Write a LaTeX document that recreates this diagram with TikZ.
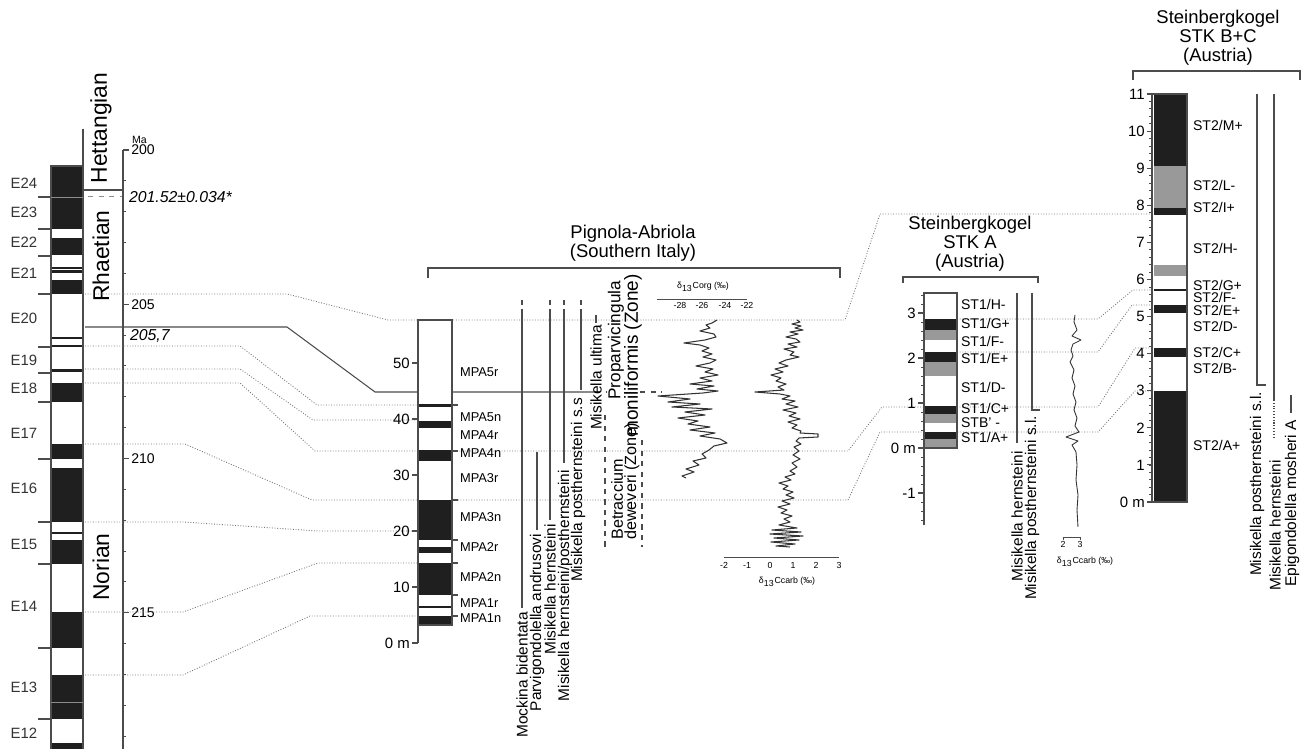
\documentclass[tikz,border=0pt]{standalone}
\usepackage{fontspec}
\setmainfont{Liberation Sans}
\begin{document}
\begin{tikzpicture}[x=0.02cm,y=-0.02cm,
  ln/.style={draw=black!70,line width=0.6pt},
  corr/.style={black!55,densely dotted,line width=0.5pt},
  band/.style={fill=black!88},
  grey/.style={fill=black!40},
  elab/.style={font=\fontsize{8.5}{9}\selectfont,text=black!80},
  stage/.style={font=\fontsize{13}{13}\selectfont,rotate=90},
  num/.style={font=\fontsize{8.5}{9}\selectfont,anchor=east,inner sep=1pt},
  zlab/.style={font=\fontsize{7.3}{8}\selectfont,anchor=west,inner sep=1pt},
  stlab/.style={font=\fontsize{8}{8}\selectfont,anchor=west,inner sep=1pt},
  sp/.style={font=\fontsize{8.8}{9}\selectfont,rotate=90,anchor=east,inner sep=1pt},
  zone/.style={font=\fontsize{10.8}{11}\selectfont,rotate=90,anchor=west,inner sep=0pt},
  ttl/.style={font=\fontsize{10.5}{10.8}\selectfont,align=center},
  tiny/.style={font=\fontsize{5}{5}\selectfont,inner sep=1pt},
  crv/.style={black!80,line width=0.6pt,line join=round}]
\useasboundingbox (0,0) rectangle (1302,749);

% magnetostratigraphic scale (E zones)
\foreach \a/\b in {166/229,238/255,267/269,270/273,280/294,337/339,345/347,369/372,
  383/402,444/459,468/522,532/534,540/564,612/648,675/719,743/749}
  \fill[band] (51,\a) rectangle (83,\b);
\draw[ln] (51,749)--(51,166)--(83,166);
\draw[ln] (83,129)--(83,749);
\foreach \y in {197,229,256,294,347,373,402,459,522,564,648,719}
  \draw[ln] (38,\y)--(51,\y);
\draw[black!45] (51,197)--(83,197) (51,702)--(83,702);
\foreach \n/\y in {24/183,23/212,22/242,21/273,20/318,19/360,18/388,17/433,
  16/488,15/544,14/606,13/687,12/733}
  \node[elab] at (24,\y) {E\n};

% stages and time scale
\draw[ln] (83,190)--(123,190);
\draw[black!45,dashed] (88,196)--(122,196);
\node[stage] at (101,128) {Hettangian};
\node[stage] at (101,256) {Rhaetian};
\node[stage] at (101,567) {Norian};
\draw[ln] (123,150)--(123,749);
\foreach \i in {0,...,19} \draw[ln] (123,{150+30.85*\i})--++(3,0);
\foreach \i/\t in {0/200,5/205,10/210,15/215}
  \draw[ln] (123,{150+30.85*\i})--++(6,0) node[right,inner sep=1pt,font=\fontsize{8}{8}\selectfont]{\t};
\node[anchor=south west,inner sep=1pt,font=\fontsize{6}{6}\selectfont] at (130,146) {Ma};
\node[anchor=west,inner sep=1pt,font=\fontsize{9}{9}\selectfont\itshape] at (127,197) {201.52±0.034*};
\node[anchor=west,inner sep=1pt,font=\fontsize{9}{9}\selectfont\itshape] at (128,336) {205,7};

% correlation lines
\draw[corr] (85,294)--(287,294)--(388,320)--(845,320)--(880,214)--(1152,214);
\draw[ln] (85,327)--(287,327)--(375,392)--(595,392);
\draw[ln,dashed] (595,392)--(606,392) (640,392)--(662,392);
\draw[corr] (85,346)--(240,346)--(317,405)--(418,405);
\draw[corr] (85,369)--(240,369)--(313,420)--(418,420);
\draw[corr] (85,383)--(240,383)--(315,451)--(848,451)--(882,407)--(1098,407)--(1135,348)--(1152,348);
\draw[corr] (85,444)--(185,444)--(312,500)--(848,500)--(880,432)--(1098,432)--(1135,391)--(1152,391);
\draw[corr] (85,522)--(183,522)--(318,531)--(418,531);
\draw[corr] (85,612)--(183,612)--(318,563)--(418,563);
\draw[corr] (85,675)--(183,675)--(310,616)--(418,616);
\draw[corr] (957,319)--(1098,319)--(1133,290)--(1152,290);
\draw[corr] (957,352)--(1098,352)--(1132,305)--(1152,305);

% Pignola-Abriola
\node[ttl] at (633,243) {Pignola-Abriola\\(Southern Italy)};
\draw[ln] (428,278)--(428,268)--(840,268)--(840,278);
\fill[white] (418,320) rectangle (452,625);
\foreach \a/\b in {404/407,421/428,450/461,500/540,547/553,563/595,606/608,616/625}
  \fill[band] (418,\a) rectangle (452,\b);
\draw[ln] (418,643)--(418,320)--(452,320)--(452,625)--(418,625);
\foreach \m/\t in {0/0 m,10/10,20/20,30/30,40/40,50/50}
  \draw[ln] (418,{643-5.6*\m})--++(-6,0) node[num]{\t};
\foreach \y in {405,451,500,540,563,595,616}
  \draw[ln] (452,\y)--(458,\y);
\foreach \t/\y in {MPA5r/372,MPA5n/417,MPA4r/435,MPA4n/453,MPA3r/478,MPA3n/517,
  MPA2r/547,MPA2n/577,MPA1r/603,MPA1n/618}
  \node[zlab] at (458,\y) {\t};

% conodont ranges
\foreach \x/\b in {522/608,550/520,564/463,581/390}{
  \draw[ln,densely dashed] (\x,300)--(\x,311);
  \draw[ln] (\x,311)--(\x,\b);}
\draw[ln] (537,452)--(537,530);
\draw[ln] (596,315)--(596,323);
\node[sp] at (522,610) {Mockina bidentata};
\node[sp] at (537,532) {Parvigondolella andrusovi};
\node[sp] at (550,522) {Misikella hernsteini};
\node[sp] at (565,468) {Misikella hernsteini/posthernsteini};
\node[sp] at (578,396) {Misikella posthernsteini s.s};
\node[sp] at (596,323) {Misikella ultima};

% radiolarian zones
\node[zone,font=\fontsize{9.8}{10}\selectfont] at (616,400) {Proparvicingula};
\node[zone] at (633,437) {moniliformis (Zone)};
\node[zone,font=\fontsize{9.2}{10}\selectfont] at (617,540) {Betraccium};
\node[zone,font=\fontsize{9.2}{10}\selectfont] at (632,540) {deweveri (Zone)};
\draw[ln,dashed] (605,415)--(605,547) (642,440)--(642,547);

% carbon isotopes, Pignola
\node[tiny] at (703,287) {δ\textsubscript{13}Corg (‰)};
\draw[ln,line width=0.4pt] (657,299)--(747,299);
\foreach \x/\t in {680/-28,702/-26,725/-24,747/-22} \node[tiny] at (\x,305) {\t};
\draw[crv] plot coordinates {(717,320)(712,323)(706,325)(710,328)(700,331)(714,334)(716,337)(705,340)(684,343)(700,345)(709,348)(702,351)(712,354)(703,357)(716,360)(710,363)(696,366)(713,369)(705,372)(718,375)(700,378)(712,381)(690,384)(714,386)(697,389)(718,391)(703,393)(658,396)(690,399)(668,402)(700,404)(672,407)(712,409)(685,412)(705,415)(678,418)(698,421)(688,424)(710,427)(690,430)(715,433)(700,436)(720,439)(727,443)(714,446)(709,450)(702,454)(706,458)(693,461)(699,465)(686,469)(694,472)(682,476)(686,478)};
\draw[crv] plot coordinates {(797,320)(800,322)(792,324)(801,326)(795,328)(803,330)(790,332)(798,334)(786,337)(796,339)(800,342)(788,344)(797,347)(784,349)(794,352)(790,355)(799,357)(786,360)(779,363)(788,366)(775,369)(783,372)(771,375)(781,378)(776,381)(786,384)(778,387)(784,390)(755,392)(780,394)(790,396)(782,399)(795,401)(786,404)(798,407)(783,410)(796,413)(789,416)(800,419)(788,422)(797,425)(792,428)(801,431)(800,433)(818,434)(818,437)(799,438)(796,441)(801,444)(794,447)(799,451)(793,455)(800,459)(792,463)(797,467)(790,471)(795,474)(785,477)(791,480)(779,483)(788,486)(783,489)(793,492)(786,495)(794,498)(782,501)(790,504)(778,507)(787,510)(781,513)(792,516)(784,519)(790,522)(779,525)(797,528)(772,530)(801,532)(770,534)(803,536)(774,538)(799,540)(771,542)(795,544)(776,546)(790,547)};
\draw[ln,line width=0.4pt] (724,557)--(839,557);
\foreach \x/\t in {724/-2,747/-1,770/0,793/1,816/2,839/3} \node[tiny] at (\x,565) {\t};
\node[tiny] at (787,582) {δ\textsubscript{13}Ccarb (‰)};

% Steinbergkogel STK A
\node[ttl] at (970,244) {Steinbergkogel\\STK A\\(Austria)};
\draw[ln] (903,283)--(903,277)--(1038,277)--(1038,283);
\fill[white] (924,293) rectangle (957,448);
\foreach \a/\b in {319/330,352/362,406/414,432/439} \fill[band] (924,\a) rectangle (957,\b);
\foreach \a/\b in {330/340,362/376,414/423,439/448} \fill[grey] (924,\a) rectangle (957,\b);
\draw[ln] (924,525)--(924,293)--(957,293)--(957,448)--(924,448);
\foreach \i in {-8,...,17} \draw[ln,line width=0.4pt] (924,{448-9*\i})--++(-3,0);
\foreach \m/\t in {-1/-1,0/0 m,1/1,2/2,3/3}
  \draw[ln] (924,{448-45*\m})--++(-6,0) node[num]{\t};
\foreach \t/\y in {{ST1/H-}/304,{ST1/G+}/323,{ST1/F-}/341,{ST1/E+}/358,{ST1/D-}/387,
  {ST1/C+}/408,{STB' -}/423,{ST1/A+}/437}
  \node[stlab] at (959,\y) {\t};
\draw[ln] (1017,293)--(1017,443);
\draw[ln] (1032,293)--(1032,410)--(1040,410);
\node[sp] at (1017,449) {Misikella hernsteini};
\node[sp] at (1032,414) {Misikella posthernsteini s.l.};
\draw[crv,line width=0.5pt] plot coordinates {(1075,315)(1074,322)(1077,330)(1072,336)(1081,340)(1073,344)(1071,350)(1073,356)(1070,362)(1074,370)(1072,378)(1075,386)(1073,394)(1076,402)(1074,410)(1077,418)(1075,426)(1079,432)(1066,437)(1078,441)(1072,445)(1076,452)(1077,465)(1076,480)(1078,495)(1077,510)(1078,527)};
\draw[ln,line width=0.4pt] (1063,540)--(1063,537)--(1080,537)--(1080,540);
\node[tiny] at (1063,544) {2};
\node[tiny] at (1080,544) {3};
\node[tiny] at (1085,562) {δ\textsubscript{13}Ccarb (‰)};

% Steinbergkogel STK B+C
\node[ttl] at (1218,38) {Steinbergkogel\\STK B+C\\(Austria)};
\draw[ln] (1133,80)--(1133,71)--(1300,71)--(1300,80);
\fill[white] (1154,94) rectangle (1187,502);
\foreach \a/\b in {94/166,208/215,289/291,305/313,348/357,391/502} \fill[band] (1154,\a) rectangle (1187,\b);
\foreach \a/\b in {166/208,265/276} \fill[grey] (1154,\a) rectangle (1187,\b);
\draw[ln] (1152,94) rectangle (1187,502);
\foreach \i in {0,...,55} \draw[ln,line width=0.4pt] (1152,{502-7.418*\i})--++(-3,0);
\foreach \m in {1,...,11}
  \draw[ln] (1152,{502-37.09*\m})--++(-5,0) node[num]{\m};
\draw[ln] (1152,502)--++(-5,0) node[num]{0 m};
\foreach \t/\y in {{ST2/M+}/125,{ST2/L-}/185,{ST2/I+}/207,{ST2/H-}/248,{ST2/G+}/285,{ST2/F-}/297,
  {ST2/E+}/310,{ST2/D-}/326,{ST2/C+}/352,{ST2/B-}/368,{ST2/A+}/445}
  \node[stlab] at (1191,\y) {\t};
\draw[ln] (1257,94)--(1257,385)--(1266,385);
\draw[ln] (1274,94)--(1274,400);
\draw[ln,densely dotted] (1274,400)--(1274,437);
\draw[ln] (1291,395)--(1291,413);
\node[sp] at (1257,390) {Misikella posthernsteini s.l.};
\node[sp] at (1275,458) {Misikella hernsteini};
\node[sp] at (1292,418) {Epigondolella mosheri A};
\end{tikzpicture}
\end{document}
